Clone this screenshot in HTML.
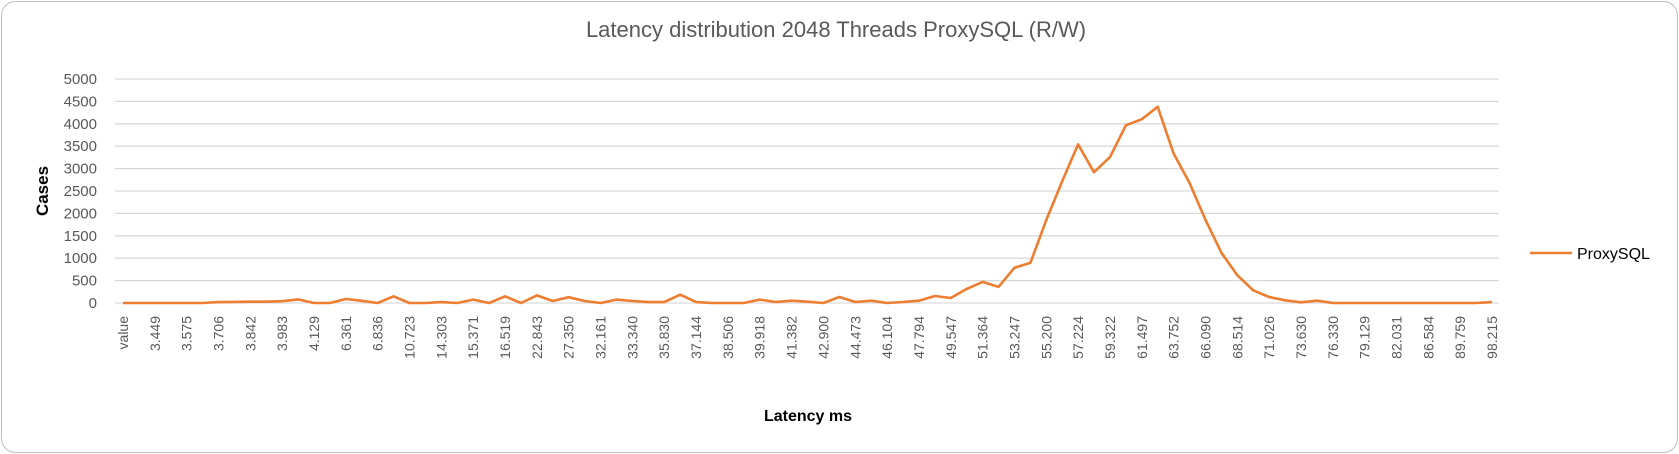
<!DOCTYPE html>
<html><head><meta charset="utf-8"><style>
html,body{margin:0;padding:0;background:#fff;}
svg{display:block;font-family:"Liberation Sans",Arial,sans-serif;}
</style></head><body>
<svg id="chart" width="1679" height="454" viewBox="0 0 1679 454">
<rect x="1.5" y="1.5" width="1676" height="451" rx="14" fill="#fff" stroke="#bfbfbf" stroke-width="1"/>
<text x="836" y="37" text-anchor="middle" font-size="22" fill="#595959">Latency distribution 2048 Threads ProxySQL (R/W)</text>
<g id="grid"></g>
<g id="yticks"></g>
<g id="xticks"></g>
<path id="line" fill="none" stroke="#ed7d31" stroke-width="2.6" stroke-linejoin="round"/>
<text transform="translate(48,191) rotate(-90)" text-anchor="middle" font-size="17" font-weight="bold" fill="#000">Cases</text>
<text x="808" y="421" text-anchor="middle" font-size="16" font-weight="bold" fill="#000">Latency ms</text>
<g>
<line x1="1530" y1="253" x2="1572" y2="253" stroke="#ed7d31" stroke-width="2.6"/>
<text x="1577" y="259" font-size="16" fill="#000">ProxySQL</text>
</g>
</svg>
<script>
const categories = ["value","3.4","3.449","3.5","3.575","3.64","3.706","3.77","3.842","3.91","3.983","4.05","4.129","5.2","6.361","6.6","6.836","8.8","10.723","12.5","14.303","14.8","15.371","15.9","16.519","19.7","22.843","25.1","27.350","29.8","32.161","32.7","33.340","34.6","35.830","36.5","37.144","37.8","38.506","39.2","39.918","40.6","41.382","42.1","42.900","43.7","44.473","45.3","46.104","46.9","47.794","48.7","49.547","50.4","51.364","52.3","53.247","54.2","55.200","56.2","57.224","58.3","59.322","60.4","61.497","62.6","63.752","64.9","66.090","67.3","68.514","69.8","71.026","72.3","73.630","75.0","76.330","77.7","79.129","80.6","82.031","84.3","86.584","88.2","89.759","94.0","98.215"];
const values = [0,0,0,0,0,0,20,25,30,30,40,80,0,0,90,50,0,150,0,0,20,0,75,0,150,0,170,45,130,45,0,75,45,20,20,185,20,0,0,0,75,22,52,30,0,135,22,52,0,22,52,157,112,314,472,360,786,898,1856,2717,3540,2919,3256,3967,4102,4379,3338,2680,1856,1123,621,284,135,60,15,52,0,0,0,0,0,0,0,0,0,0,20];
const yTicks = [0,500,1000,1500,2000,2500,3000,3500,4000,4500,5000];
const NS="http://www.w3.org/2000/svg";
const X0=123, X1=1492, PL=115, PR=1499, Y0=303, Y1=79, YMAX=5000;
function xPos(i){return X0+(X1-X0)*i/(categories.length-1);}
function yPos(v){return Y0-(Y0-Y1)*v/YMAX;}
const grid=document.getElementById('grid'), yt=document.getElementById('yticks'), xt=document.getElementById('xticks');
yTicks.forEach(t=>{
  const l=document.createElementNS(NS,'line');
  
  
  l.setAttribute('x1',PL);l.setAttribute('x2',PR);l.setAttribute('y1',yPos(t));l.setAttribute('y2',yPos(t));
  l.setAttribute('stroke','#d9d9d9');l.setAttribute('stroke-width','1.3');
  grid.appendChild(l);
  const tx=document.createElementNS(NS,'text');
  
  
  tx.setAttribute('x',97);tx.setAttribute('y',yPos(t)+5);tx.setAttribute('text-anchor','end');
  tx.setAttribute('font-size','15');tx.setAttribute('fill','#595959');tx.textContent=t;
  yt.appendChild(tx);
});
categories.forEach((c,i)=>{
  if(i%2) return;
  const tx=document.createElementNS(NS,'text');
  
  
  const x=xPos(i)+5, y=316;
  tx.setAttribute('transform','translate('+x+','+y+') rotate(-90)');
  tx.setAttribute('text-anchor','end');tx.setAttribute('font-size','14');tx.setAttribute('fill','#595959');
  tx.textContent=c;xt.appendChild(tx);
});
document.getElementById('line').setAttribute('d',values.map((v,i)=>(i?'L':'M')+xPos(i).toFixed(1)+','+yPos(v).toFixed(1)).join(''));
</script>
</body></html>
